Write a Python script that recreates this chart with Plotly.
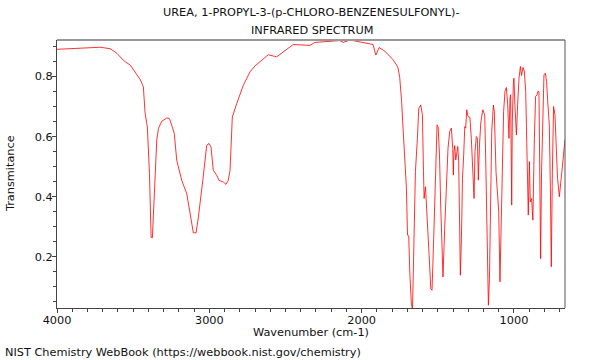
import plotly.graph_objects as go

wavenumber = [4000, 3826, 3717, 3651, 3607, 3586, 3553, 3520, 3498, 3487, 3454, 3433, 3422, 3411, 3407,
              3393, 3382, 3374, 3361, 3345, 3334, 3312, 3279, 3262, 3247, 3230, 3214, 3181, 3148, 3127,
              3105, 3087, 3072, 3043, 3017, 3002, 2989, 2974, 2951, 2936, 2908, 2891, 2876, 2864, 2849,
              2820, 2777, 2733, 2700, 2667, 2613, 2558, 2449, 2340, 2307, 2143, 2121, 2077, 1968, 1925,
              1907, 1885, 1848, 1793, 1771, 1761, 1750, 1738, 1728, 1717, 1706, 1699, 1691, 1684, 1673,
              1666, 1658, 1647, 1634, 1625, 1612, 1601, 1594, 1590, 1581, 1571, 1557, 1546, 1538, 1527,
              1516, 1505, 1498, 1489, 1481, 1472, 1466, 1455, 1443, 1433, 1422, 1411, 1402, 1398, 1394,
              1389, 1382, 1378, 1369, 1363, 1356, 1352, 1345, 1338, 1330, 1323, 1317, 1310, 1302, 1289,
              1280, 1271, 1262, 1256, 1247, 1240, 1234, 1227, 1218, 1205, 1192, 1186, 1179, 1173, 1168,
              1161, 1155, 1146, 1135, 1129, 1118, 1107, 1100, 1092, 1085, 1076, 1068, 1059, 1050, 1041,
              1033, 1026, 1022, 1015, 1011, 1004, 1000, 994, 984, 976, 967, 958, 950, 941, 932,
              923, 915, 906, 899, 893, 884, 876, 866, 858, 849, 843, 836, 832, 825, 819,
              812, 803, 794, 786, 777, 768, 761, 755, 748, 740, 731, 722, 714, 702, 692,
              681, 670, 665]
transmittance = [0.890, 0.895, 0.897, 0.892, 0.877, 0.865, 0.849, 0.838, 0.822, 0.812, 0.790, 0.765, 0.680, 0.643, 0.632,
                 0.477, 0.265, 0.263, 0.421, 0.588, 0.627, 0.651, 0.662, 0.660, 0.638, 0.610, 0.521, 0.454, 0.410, 0.343,
                 0.280, 0.280, 0.332, 0.454, 0.571, 0.577, 0.565, 0.488, 0.471, 0.454, 0.449, 0.441, 0.454, 0.488, 0.665,
                 0.710, 0.770, 0.815, 0.835, 0.849, 0.872, 0.865, 0.906, 0.903, 0.913, 0.919, 0.913, 0.921, 0.912, 0.906,
                 0.871, 0.896, 0.884, 0.855, 0.838, 0.828, 0.796, 0.720, 0.625, 0.528, 0.428, 0.272, 0.270, 0.150, 0.039,
                 0.028, 0.205, 0.483, 0.594, 0.694, 0.705, 0.672, 0.483, 0.394, 0.433, 0.350, 0.205, 0.094, 0.089, 0.261,
                 0.483, 0.639, 0.633, 0.539, 0.372, 0.161, 0.133, 0.294, 0.439, 0.561, 0.617, 0.628, 0.561, 0.472, 0.550,
                 0.570, 0.522, 0.539, 0.567, 0.517, 0.317, 0.139, 0.261, 0.461, 0.539, 0.633, 0.628, 0.689, 0.667, 0.663,
                 0.594, 0.506, 0.394, 0.550, 0.600, 0.594, 0.455, 0.565, 0.645, 0.689, 0.672, 0.539, 0.317, 0.128, 0.039,
                 0.128, 0.372, 0.617, 0.705, 0.683, 0.483, 0.394, 0.350, 0.117, 0.261, 0.539, 0.683, 0.750, 0.763, 0.705,
                 0.594, 0.728, 0.739, 0.372, 0.650, 0.777, 0.794, 0.705, 0.605, 0.705, 0.794, 0.833, 0.803, 0.830, 0.817,
                 0.750, 0.594, 0.339, 0.517, 0.383, 0.394, 0.322, 0.594, 0.733, 0.739, 0.750, 0.750, 0.483, 0.194, 0.483,
                 0.650, 0.805, 0.811, 0.783, 0.705, 0.639, 0.428, 0.167, 0.483, 0.700, 0.672, 0.561, 0.461, 0.400, 0.450,
                 0.494, 0.561, 0.590]

x_ticks = [4000, 3000, 2000, 1000]
y_ticks = [0.2, 0.4, 0.6, 0.8]
title_lines = ["UREA, 1-PROPYL-3-(p-CHLORO-BENZENESULFONYL)-", "INFRARED SPECTRUM"]
x_title = "Wavenumber (cm-1)"
y_title = "Transmitance"
footer = "NIST Chemistry WebBook (https://webbook.nist.gov/chemistry)"

FONT = "DejaVu Sans"
TXT = dict(family=FONT, size=11.3, color="#111")
L, R, T, B = 57, 34.5, 40, 52
W, H = 600, 360
PW, PH = W - L - R, H - T - B

fig = go.Figure()
fig.add_trace(go.Scatter(x=wavenumber, y=transmittance, mode="lines",
                         line=dict(color="rgba(255,0,0,0.8)", width=1), hoverinfo="skip"))

axis_common = dict(showgrid=False, zeroline=False, showline=True, linecolor="#444", linewidth=1,
                   ticks="outside", ticklen=4, tickcolor="#444", tickwidth=1,
                   tickfont=TXT, automargin=False)
fig.update_xaxes(range=[4000, 665], tickvals=x_ticks, ticktext=[str(v) for v in x_ticks],
                 minor=dict(dtick=100, tick0=0, ticks="outside", ticklen=3, tickcolor="#444"),
                 ticklabelstandoff=-3, **axis_common)
fig.update_yaxes(range=[0.03, 0.921], tickvals=y_ticks, ticktext=[str(v) for v in y_ticks],
                 minor=dict(dtick=0.05, tick0=0, ticks="outside", ticklen=3, tickcolor="#444"),
                 ticklabelstandoff=-3, **axis_common)

fig.add_shape(type="line", xref="paper", yref="paper", x0=0, x1=1, y0=1, y1=1,
              line=dict(color="#999", width=2))
fig.add_shape(type="line", xref="paper", yref="paper", x0=1, x1=1, y0=0, y1=1,
              line=dict(color="#555", width=1))

def px_x(px):
    return (px - L) / PW

def px_y(py):
    return 1 - (py - T) / PH

fig.add_annotation(text=title_lines[0], xref="paper", yref="paper", x=px_x(312), y=px_y(13),
                   xanchor="center", yanchor="middle", showarrow=False, font=TXT)
fig.add_annotation(text=title_lines[1], xref="paper", yref="paper", x=px_x(312), y=px_y(30),
                   xanchor="center", yanchor="middle", showarrow=False, font=TXT)
fig.add_annotation(text=x_title, xref="paper", yref="paper", x=px_x(311), y=px_y(332),
                   xanchor="center", yanchor="middle", showarrow=False, font=TXT)
fig.add_annotation(text=y_title, xref="paper", yref="paper", x=px_x(10), y=px_y(174),
                   xanchor="center", yanchor="middle", textangle=-90, showarrow=False, font=TXT)
fig.add_annotation(text=footer, xref="paper", yref="paper", x=px_x(3), y=px_y(352),
                   xanchor="left", yanchor="middle", showarrow=False, font=TXT)

fig.update_layout(width=W, height=H, margin=dict(l=L, r=R, t=T, b=B),
                  paper_bgcolor="white", plot_bgcolor="white", showlegend=False)
fig.write_html("out.html", config={"displayModeBar": False},
               post_script="document.body.style.margin='0';document.body.style.overflow='hidden';")
